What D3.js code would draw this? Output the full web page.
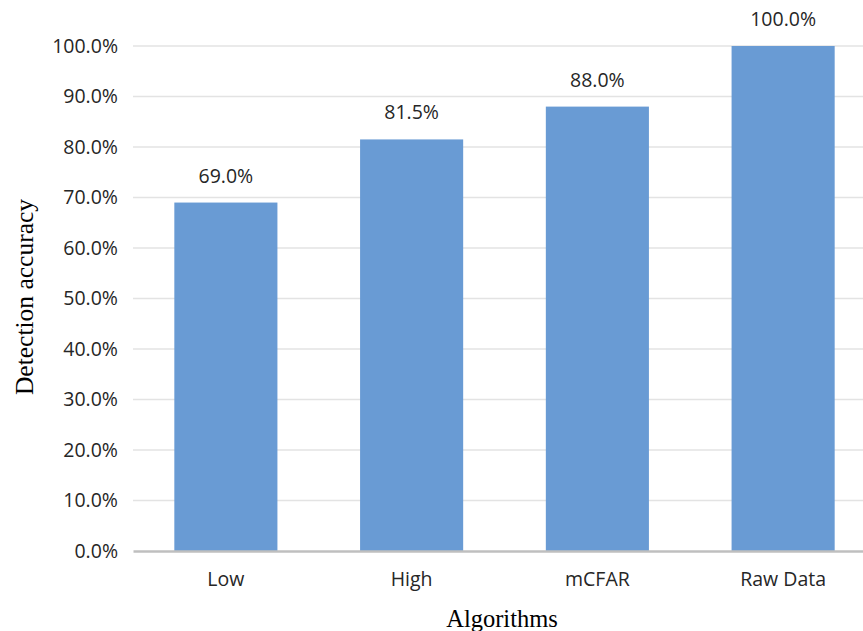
<!DOCTYPE html>
<html>
<head>
<meta charset="utf-8">
<script src="https://cdn.jsdelivr.net/npm/d3@7"></script>
<style>
  html, body { margin: 0; padding: 0; background: #fff; overflow: hidden; }
</style>
</head>
<body>
<svg id="chart" width="863" height="631"></svg>
<script>
// Detection accuracy per algorithm
const categories = ["Low", "High", "mCFAR", "Raw Data"];
const accuracy = [69.0, 81.5, 88.0, 100.0];
const yTicks = [0, 10, 20, 30, 40, 50, 60, 70, 80, 90, 100];

const svg = d3.select("#chart");
const W = 863, H = 631;
const plot = { left: 133, right: 876, top: 46, bottom: 551 };

const x = d3.scaleBand()
  .domain(categories)
  .range([plot.left, plot.right])
  .paddingInner(0.445)
  .paddingOuter(0.2225);

const y = d3.scaleLinear()
  .domain([0, 100])
  .range([plot.bottom, plot.top]);

const fmt = v => v.toFixed(1) + "%";
const sans = "'Open Sans', 'Noto Sans', sans-serif";
const serif = "'Liberation Serif', 'DejaVu Serif', serif";
const labelSize = 19.5;

// horizontal gridlines
svg.append("g")
  .selectAll("line")
  .data(yTicks.filter(t => t > 0))
  .join("line")
  .attr("x1", plot.left)
  .attr("x2", W)
  .attr("y1", d => y(d))
  .attr("y2", d => y(d))
  .attr("stroke", "#e3e3e3")
  .attr("stroke-width", 1.5);

// y tick labels
const yAxis = svg.append("g")
  .attr("transform", `translate(${plot.left},0)`)
  .call(d3.axisLeft(y).tickValues(yTicks).tickFormat(fmt).tickSize(0).tickPadding(15));
yAxis.select(".domain").remove();
yAxis.selectAll("text")
  .attr("font-family", sans)
  .attr("font-size", labelSize)
  .attr("fill", "#262626");

// bars
svg.append("g")
  .selectAll("rect")
  .data(categories)
  .join("rect")
  .attr("x", d => x(d))
  .attr("width", x.bandwidth())
  .attr("y", (d, i) => y(accuracy[i]))
  .attr("height", (d, i) => y(0) - y(accuracy[i]))
  .attr("fill", "#699bd4");

// value labels
svg.append("g")
  .selectAll("text")
  .data(categories)
  .join("text")
  .attr("x", d => x(d) + x.bandwidth() / 2)
  .attr("y", (d, i) => y(accuracy[i]) - 20)
  .attr("text-anchor", "middle")
  .attr("font-family", sans)
  .attr("font-size", labelSize)
  .attr("fill", "#262626")
  .text((d, i) => fmt(accuracy[i]));

// x axis
const xAxis = svg.append("g")
  .attr("transform", `translate(0,${plot.bottom})`)
  .call(d3.axisBottom(x).tickSize(0).tickPadding(0));
xAxis.select(".domain")
  .attr("stroke", "#bfbfbf")
  .attr("stroke-width", 2.5);
xAxis.selectAll("text")
  .attr("dy", null)
  .attr("y", 35)
  .attr("font-family", sans)
  .attr("font-size", labelSize)
  .attr("fill", "#262626");

// axis titles
svg.append("text")
  .attr("x", 502)
  .attr("y", 627)
  .attr("text-anchor", "middle")
  .attr("font-family", serif)
  .attr("font-size", 24.5)
  .attr("fill", "#000")
  .text("Algorithms");

svg.append("text")
  .attr("transform", "translate(33,297) rotate(-90)")
  .attr("text-anchor", "middle")
  .attr("font-family", serif)
  .attr("font-size", 25.5)
  .attr("fill", "#000")
  .text("Detection accuracy");
</script>
</body>
</html>
